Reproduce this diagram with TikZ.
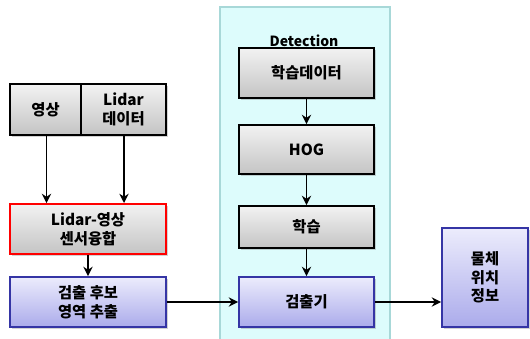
\documentclass[tikz,border=0pt]{standalone}
\usepackage{fontspec}
\setmainfont{Noto Sans CJK KR}
\usetikzlibrary{shadows,arrows.meta}
\definecolor{panelfill}{HTML}{DDFCFC}
\definecolor{paneldraw}{HTML}{A8D8D8}
\definecolor{bluedraw}{HTML}{3535A5}
\definecolor{bluetop}{HTML}{ECECFC}
\definecolor{bluebot}{HTML}{ABABEB}
\definecolor{graytop}{HTML}{F2F2F2}
\definecolor{graybot}{HTML}{C4C4C4}
\tikzset{
  txt/.style={font=\fontsize{11.5}{14}\selectfont\bfseries},
  base/.style={line width=1.4pt, align=center, txt, inner sep=0pt,
    drop shadow={shadow xshift=1.5pt, shadow yshift=-1.5pt, opacity=0.35}},
  graybox/.style={base, draw=black, top color=graytop, bottom color=graybot},
  redbox/.style={base, draw=red, top color=graytop, bottom color=graybot},
  bluebox/.style={base, draw=bluedraw, top color=bluetop, bottom color=bluebot},
  arr/.style={line width=1.3pt, -{Stealth[length=7pt,width=7pt]}}
}
\begin{document}
\begin{tikzpicture}[x=0.75pt,y=-0.75pt]
\useasboundingbox (0,0) rectangle (530,338);
% panel
\fill[panelfill] (220,7) rectangle (390,345);
\draw[paneldraw, line width=1pt] (220,345) -- (220,7) -- (390,7) -- (390,345);
\node[font=\fontsize{10.5}{13}\selectfont\bfseries] (det) at (304,41) {Detection};
% left column
\node[graybox, minimum width=53.25pt, minimum height=38.25pt] (img) at (45.5,109.5) {영상};
\node[graybox, minimum width=63.75pt, minimum height=38.25pt] (lid) at (123.5,109.5) {Lidar\\데이터};
\node[redbox, minimum width=117pt, minimum height=37.5pt] (fuse) at (88,229) {Lidar-영상\\센서융합};
\node[bluebox, minimum width=117pt, minimum height=37.5pt] (cand) at (88,302) {검출 후보\\영역 추출};
% detection column
\node[graybox, minimum width=101.25pt, minimum height=37.5pt] (train) at (306.5,73) {학습데이터};
\node[graybox, minimum width=101.25pt, minimum height=36.75pt] (hog) at (306.5,149.5) {HOG};
\node[graybox, minimum width=101.25pt, minimum height=31.5pt] (learn) at (306.5,227) {학습};
\node[bluebox, minimum width=101.25pt, minimum height=37.5pt] (detr) at (306.5,302) {검출기};
% output
\node[bluebox, minimum width=64.5pt, minimum height=74.25pt] (out) at (485,277.5) {물체\\위치\\정보};
% arrows
\coordinate (a1) at ([xshift=0.75pt]img.south);
\coordinate (a2) at ([xshift=0.4pt]lid.south);
\draw[arr] (a1) -- (a1 |- fuse.north);
\draw[arr] (a2) -- (a2 |- fuse.north);
\draw[arr] (fuse) -- (cand);
\draw[arr] (train) -- (hog);
\draw[arr] (hog) -- (learn);
\draw[arr] (learn) -- (detr);
\draw[arr] (cand) -- (detr);
\draw[arr] (detr.east) -- (detr.east -| out.west);
\end{tikzpicture}
\end{document}
